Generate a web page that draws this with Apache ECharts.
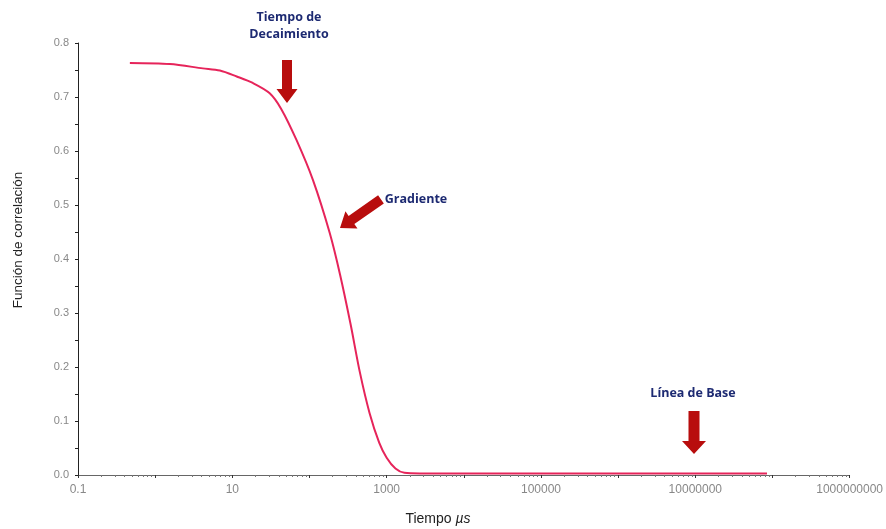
<!DOCTYPE html>
<html>
<head>
<meta charset="utf-8">
<script src="https://cdn.jsdelivr.net/npm/echarts@6/dist/echarts.min.js"></script>
<style>
html,body{margin:0;padding:0;background:#fff;}
#main{width:886px;height:529px;}
</style>
</head>
<body>
<div id="main"></div>
<script>
// Data
const times  = [0.47, 1.55, 4.15, 6.9, 11.4, 18.4, 30.5, 43, 68, 111, 183, 250, 340, 450, 600, 800, 1000, 1300, 1700, 2700, 10000, 100000, 1000000, 10000000, 85000000];
const values = [0.763, 0.761, 0.753, 0.749, 0.738, 0.726, 0.707, 0.678, 0.620, 0.546, 0.448, 0.370, 0.280, 0.190, 0.115, 0.060, 0.032, 0.012, 0.004, 0.003, 0.003, 0.003, 0.003, 0.003, 0.003];
const yTicks = [0.0, 0.1, 0.2, 0.3, 0.4, 0.5, 0.6, 0.7, 0.8];
const xTickLabels = ['0.1', '10', '1000', '100000', '10000000', '1000000000'];
const seriesName = 'Función de correlación';

const chart = echarts.init(document.getElementById('main'), null, {renderer: 'canvas'});

const lineData = times.map((t, i) => [t, values[i]]);

function downArrow(tx, ty, len, shaftW, headW, headH) {
  return [
    [tx - shaftW / 2, ty - len], [tx + shaftW / 2, ty - len],
    [tx + shaftW / 2, ty - headH], [tx + headW / 2, ty - headH],
    [tx, ty], [tx - headW / 2, ty - headH], [tx - shaftW / 2, ty - headH]
  ];
}

const arrowColor = '#b80d0d';
const noteColor = '#1d2a72';
const noteFont = 'bold 12.5px "Open Sans", "DejaVu Sans", sans-serif';
const axisFont = 'Arial, "Liberation Sans", sans-serif';

chart.setOption({
  backgroundColor: '#ffffff',
  animation: false,
  grid: {left: 78, right: 35, top: 43, bottom: 54, containLabel: false},
  xAxis: {
    type: 'log',
    logBase: 10,
    min: 0.1,
    max: 1e9,
    axisLine: {show: true, onZero: false, lineStyle: {color: '#666', width: 1}},
    axisTick: {show: true, length: 3, inside: false, lineStyle: {color: '#333'}},
    minorTick: {show: true, splitNumber: 9, length: 2, lineStyle: {color: '#777'}},
    splitLine: {show: false},
    axisLabel: {
      color: '#888', fontSize: 12, fontFamily: axisFont, margin: 9,
      formatter: function (v) {
        const e = Math.round(Math.log10(v));
        if (((e % 2) + 2) % 2 !== 1) return '';
        return xTickLabels[(e + 1) / 2] || '';
      }
    }
  },
  yAxis: {
    type: 'value',
    min: 0,
    max: 0.8,
    interval: 0.1,
    axisLine: {show: true, lineStyle: {color: '#222', width: 1}},
    axisTick: {show: true, length: 3, lineStyle: {color: '#222'}},
    minorTick: {show: true, splitNumber: 2, length: 3, lineStyle: {color: '#222'}},
    splitLine: {show: false},
    axisLabel: {
      color: '#888', fontSize: 11, fontFamily: axisFont, margin: 9,
      formatter: v => v.toFixed(1)
    }
  },
  series: [{
    name: seriesName,
    type: 'line',
    data: lineData,
    smooth: 0.3,
    showSymbol: false,
    lineStyle: {color: '#e6245a', width: 2}
  }],
  graphic: [
    {type: 'text', x: 18, y: 240, rotation: Math.PI / 2,
     style: {text: 'Función de correlación', fill: '#222', font: '13.5px Arial, "Liberation Sans", sans-serif', align: 'center', verticalAlign: 'middle'}},
    {type: 'text', x: 438, y: 519,
     style: {text: '{a|Tiempo }{b|µs}', align: 'center', verticalAlign: 'middle',
       rich: {a: {fill: '#222', fontSize: 14, fontFamily: axisFont},
              b: {fill: '#222', fontSize: 14, fontStyle: 'italic', fontFamily: axisFont}}}},
    {type: 'text', x: 289, y: 17, style: {text: 'Tiempo de', fill: noteColor, font: noteFont, align: 'center', verticalAlign: 'middle'}},
    {type: 'text', x: 289, y: 34, style: {text: 'Decaimiento', fill: noteColor, font: noteFont, align: 'center', verticalAlign: 'middle'}},
    {type: 'text', x: 416, y: 199, style: {text: 'Gradiente', fill: noteColor, font: noteFont, align: 'center', verticalAlign: 'middle'}},
    {type: 'text', x: 693, y: 393, style: {text: 'Línea de Base', fill: noteColor, font: noteFont, align: 'center', verticalAlign: 'middle'}},
    {type: 'polygon', shape: {points: downArrow(287, 103, 43, 10, 21, 14)}, style: {fill: arrowColor}},
    {type: 'polygon', shape: {points: downArrow(694, 454, 43, 11, 24, 13)}, style: {fill: arrowColor}},
    {type: 'polygon', x: 340, y: 228, rotation: -Math.atan2(40, 28),
     shape: {points: downArrow(0, 0, 50, 10, 21, 14)}, style: {fill: arrowColor}}
  ]
});
</script>
</body>
</html>
